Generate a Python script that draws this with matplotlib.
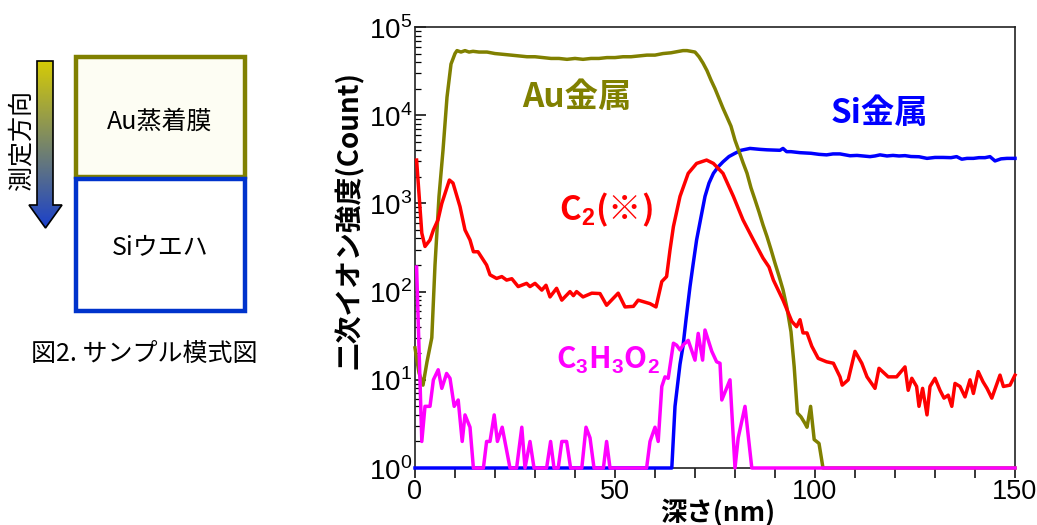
import numpy as np
import matplotlib
matplotlib.use('Agg')
import matplotlib.pyplot as plt
from matplotlib.patches import Rectangle, Polygon
from matplotlib.ticker import LogLocator, FuncFormatter, NullFormatter, MultipleLocator, FixedLocator

plt.rcParams['font.family'] = ['Noto Sans CJK JP', 'DejaVu Sans']
plt.rcParams['mathtext.fontset'] = 'custom'
plt.rcParams['mathtext.rm'] = 'Liberation Sans'
plt.rcParams['mathtext.bf'] = 'Liberation Sans:bold'

# ---------------- data (depth nm, counts) ----------------
au_x = [0, 1, 2, 3, 4.2, 5, 6, 7, 8, 9, 10, 10.5, 11.5, 12.5, 13.5, 14.5, 16, 18, 20, 22, 24, 26,
        28, 30, 32, 34, 36, 38, 40, 42, 44, 46, 48, 50, 52, 54, 56, 58, 60, 62, 64, 66, 67, 68,
        69, 70, 71, 72, 73, 74, 75, 76, 77, 78, 79, 80, 81, 82, 83, 84, 85, 86, 87, 88, 89, 90,
        91, 92, 93, 94, 94.8, 95.6, 96.5, 97.5, 98, 98.9, 99.8, 101, 102, 150]
au_y = [23, 12, 8.7, 16, 30, 200, 1200, 4000, 16000, 38000, 50000, 54000, 52000, 54000, 52000,
        53000, 52000, 52000, 50000, 49000, 48000, 47000, 46000, 46000, 45000, 44000, 44000,
        43000, 44000, 43000, 44000, 44000, 45000, 45000, 46000, 46000, 47000, 48000, 48000,
        50000, 51000, 53000, 54000, 54000, 53000, 52000, 46000, 39000, 32000, 25000, 20000,
        15500, 12000, 9500, 7500, 5200, 3900, 2900, 2200, 1500, 1100, 800, 570, 420, 300, 210,
        150, 105, 65, 35, 14, 4.2, 3.8, 3.2, 2.9, 5, 2.1, 1.9, 1, 1]

si_x = [0, 64.2, 65, 66.25, 67, 67.75, 68.75, 69.5, 70.4, 71.5, 72.5, 73.5, 74.6, 75.8, 77, 78.5,
        80, 81.5, 83.75, 86.25, 88, 91.25, 92, 92.9, 94, 96.25, 99, 101, 102.9, 104.5, 106.25,
        108.75, 110.5, 113.75, 115, 116.25, 118, 119.5, 121, 122.5, 124, 126, 128, 130, 132,
        134, 135.4, 136.7, 138, 139.6, 141, 142.5, 143.75, 145, 146.5, 148, 150]
si_y = [1, 1, 5, 15, 24, 48, 114, 200, 385, 700, 1200, 1700, 2190, 2600, 2960, 3400, 3700, 4000,
        4200, 4100, 4050, 4000, 4200, 3860, 3860, 3760, 3700, 3600, 3550, 3640, 3640, 3470,
        3500, 3390, 3450, 3550, 3450, 3500, 3450, 3480, 3400, 3380, 3240, 3320, 3320, 3300,
        3390, 3170, 3240, 3240, 3300, 3300, 3390, 3030, 3200, 3240, 3240]

c2_x = [0.4, 1.7, 2.5, 3.75, 4.6, 5.75, 6.7, 8.6, 9.5, 11.25, 12.5, 13.75, 14.6, 15.75, 17.9,
        18.75, 20.4, 21.7, 22.9, 24.2, 25.8, 27.9, 28.75, 30, 31.7, 32.75, 33.75, 35.4, 36.7,
        38.75, 39.6, 40.4, 42, 44.2, 46.25, 47.9, 50.8, 52.5, 54.6, 55.8, 58.75, 60.25, 61.7,
        62.9, 63.75, 64.6, 66.25, 68.3, 70.4, 72.9, 74.6, 77, 79.6, 82, 84.6, 87, 88.5, 89.6,
        92, 94.2, 95.4, 96.25, 97, 98, 99.2, 100.8, 102.9, 104.6, 106.25, 106.8, 108.3, 110,
        111.7, 113, 115, 116, 118.3, 120.4, 122.5, 123.3, 124.2, 125.4, 126, 126.9, 128,
        128.75, 130, 131.25, 132.25, 133.3, 134.2, 135, 136.25, 137.5, 138.75, 139.6, 140.8,
        142, 143, 144.2, 146.25, 147.1, 148.75, 150]
c2_y = [3100, 460, 325, 385, 500, 650, 1000, 1840, 1700, 920, 500, 385, 283, 283, 200, 155, 141,
        148, 135, 140, 114, 124, 114, 124, 104, 118, 87, 109, 80, 100, 90, 100, 87, 96, 95, 70,
        96, 67, 68, 80, 73, 67, 130, 148, 296, 545, 1200, 2190, 2840, 3100, 2840, 2190, 1200,
        650, 385, 240, 190, 135, 80, 46, 40, 48, 34, 34, 24, 17.5, 16, 15.4, 10.8, 8.7, 10, 21,
        15.4, 10.8, 8, 13.5, 10.8, 10.8, 14, 7.6, 10.4, 8.4, 5, 8, 4, 8.4, 10.4, 7.6, 6.2, 6.7,
        5, 9.1, 8.4, 6.4, 10, 7, 12.4, 9.5, 8, 6.2, 11.3, 8.4, 8.7, 11.3]

c3_x = [0.4, 1.7, 2.5, 3.75, 4.6, 5.8, 6.7, 7.9, 8.75, 9.8, 10.8, 11.8, 12.5, 13.75, 14.6, 17.1,
        17.9, 18.75, 19.8, 20.6, 21.8, 23.75, 25.4, 26.7, 27.5, 28.75, 29.75, 32.9, 33.9,
        34.75, 35.8, 36.7, 37.9, 38.9, 41.7, 42.75, 43.75, 44.75, 47.1, 47.9, 48.75, 57.9,
        58.75, 60, 60.8, 61.7, 62.5, 63.3, 64.6, 65.4, 66.25, 67, 68.3, 70, 70.8, 71.9, 72.5,
        74.2, 75.4, 76.25, 76.7, 78.75, 80, 80.8, 82.5, 84.2, 150]
c3_y = [190, 2, 5, 5, 10, 13, 8, 11.8, 10.4, 5, 5.9, 2, 4, 2.9, 1, 1, 2, 2, 4, 2, 2.9, 1, 1, 2.9,
        1, 2, 1, 1, 2, 1, 1, 2, 2, 1, 1, 2.9, 2.2, 1, 1, 2, 1, 1, 2, 2.9, 2, 8.4, 10.8, 10.4,
        26, 24.7, 21.8, 24.7, 28, 16.7, 33.6, 16.7, 36.7, 21, 16, 15.4, 5.9, 10, 1, 2.2, 5, 1, 1]

# ---------------- figure ----------------
W, H = 1037, 525
fig = plt.figure(figsize=(W / 100, H / 100), dpi=100)
ax0 = fig.add_axes([0, 0, 1, 1])
ax0.set_xlim(0, W)
ax0.set_ylim(H, 0)
ax0.axis('off')

# sample schematic
ax0.add_patch(Rectangle((76, 57), 169, 120, facecolor='#fdfdf3', edgecolor='#808000', lw=3.2, zorder=2))
ax0.add_patch(Rectangle((76, 179), 169, 132, facecolor='white', edgecolor='#0033cc', lw=3.2, zorder=2))
ax0.text(160, 122, 'Au蒸着膜', ha='center', va='center', fontsize=18, zorder=5)
ax0.text(160, 247, 'Siウエハ', ha='center', va='center', fontsize=18, zorder=5)
ax0.text(144, 354, '図2. サンプル模式図', ha='center', va='center', fontsize=18)
ax0.text(22, 140, '測定方向', ha='center', va='center', rotation=90, fontsize=18)

# gradient arrow
arrow_pts = [(37, 61), (53, 61), (53, 205), (62, 205), (45.5, 228), (29, 205), (37, 205)]
poly = Polygon(arrow_pts, closed=True, facecolor='none', edgecolor='black', lw=1.2, zorder=4)
ax0.add_patch(poly)
top = np.array([0.84, 0.80, 0.02])
bot = np.array([0.10, 0.25, 0.80])
t = np.linspace(0, 1, 200)[:, None]
grad = (top[None, :] * (1 - t) + bot[None, :] * t)[:, None, :]
im = ax0.imshow(grad, extent=(28, 63, 229, 60), aspect='auto', zorder=3)
clip = Polygon(arrow_pts, closed=True, transform=ax0.transData)
im.set_clip_path(clip)
ax0.set_xlim(0, W)
ax0.set_ylim(H, 0)

# main chart
ax = fig.add_axes([415 / W, (H - 468) / H, 600 / W, 441 / H])
lw = 2.5
ax.plot(si_x, si_y, color='#0000ff', lw=lw, clip_on=False, zorder=3)
ax.plot(au_x, au_y, color='#808000', lw=lw, clip_on=False, zorder=4)
ax.plot(c2_x, c2_y, color='#ff0000', lw=lw, clip_on=False, zorder=5)
ax.plot(c3_x, c3_y, color='#ff00ff', lw=lw, clip_on=False, zorder=6)
ax.set_yscale('log')
ax.set_xlim(0, 150)
ax.set_ylim(1, 1e5)
for s in ax.spines.values():
    s.set_linewidth(1.2)
    s.set_color('#222222')

ax.xaxis.set_major_locator(FixedLocator([0, 50, 100, 150]))
ax.xaxis.set_minor_locator(MultipleLocator(10))
ax.tick_params(axis='x', which='both', direction='out', length=7, width=1.1, pad=1,
               labelsize=19.5, labelfontfamily='Liberation Sans')
ax.yaxis.set_major_locator(LogLocator(base=10, numticks=10))
ax.yaxis.set_minor_locator(LogLocator(base=10, subs=np.arange(2, 10), numticks=20))
ax.yaxis.set_minor_formatter(NullFormatter())
ax.yaxis.set_major_formatter(FuncFormatter(lambda v, p: r'$10^{%d}$' % round(np.log10(v))))
ax.tick_params(axis='y', which='major', direction='in', length=8, width=1.1, pad=2, labelsize=20)
ax.tick_params(axis='y', which='minor', direction='in', length=4, width=0.9)

# series labels
tr = ax0.transData
ax.text(577, 97, 'Au金属', transform=tr, ha='center', va='center', fontsize=24,
        fontweight='bold', color='#808000', zorder=7)
ax.text(879, 114, 'Si金属', transform=tr, ha='center', va='center', fontsize=24,
        fontweight='bold', color='#0000ff', zorder=7)
ax.text(606, 210, r'C$_{\mathbf{2}}$(※)', transform=tr, ha='center', va='center', fontsize=24,
        fontweight='bold', color='#ff0000', zorder=7)
ax.text(608, 360, r'C$_{\mathbf{3}}$H$_{\mathbf{3}}$O$_{\mathbf{2}}$', transform=tr, ha='center',
        va='center', fontsize=21.5, fontweight='bold', color='#ff00ff', zorder=7)

# axis titles
ax0.text(349, 220, '二次イオン強度(Count)', rotation=90, ha='center', va='center',
         fontsize=20, fontweight='bold')
ax0.text(718, 513, '深さ(nm)', ha='center', va='center', fontsize=19, fontweight='bold')

fig.savefig('out.png', dpi=100)
